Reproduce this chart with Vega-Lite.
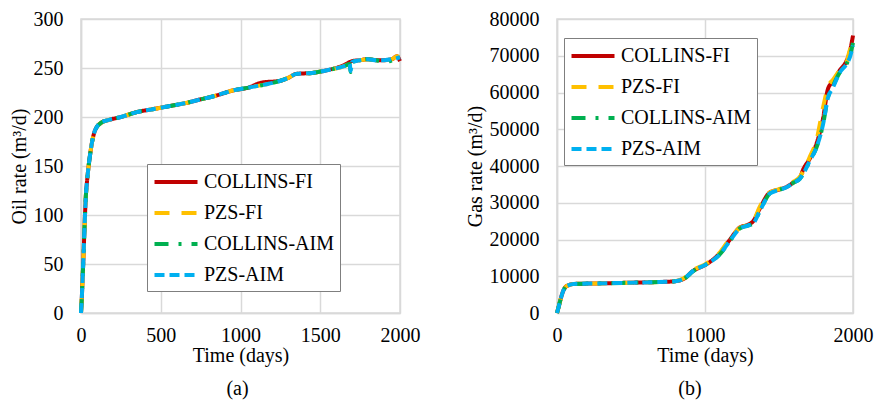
{
  "$schema": "https://vega.github.io/schema/vega-lite/v6.json",
  "background": "white",
  "padding": {"left": 8, "top": 8, "right": 2, "bottom": 2},
  "spacing": 43,
  "config": {
    "font": "Liberation Serif, Times New Roman, serif",
    "view": {"stroke": "#d9d9d9", "strokeWidth": 1.5},
    "axis": {
      "labelFont": "Liberation Serif, Times New Roman, serif", "labelFontSize": 20, "labelColor": "#000",
      "titleFont": "Liberation Serif, Times New Roman, serif", "titleFontSize": 20, "titleFontWeight": "normal", "titleColor": "#000",
      "gridColor": "#d9d9d9", "gridWidth": 1.5, "domainColor": "#d9d9d9", "domainWidth": 1.5,
      "tickSize": 0, "labelFlush": false, "format": "d"
    },
    "axisX": {"labelPadding": 12, "titlePadding": 0},
    "axisY": {"labelPadding": 18, "titlePadding": 4},
    "legend": {
      "orient": "none", "fillColor": "white", "strokeColor": "#7f7f7f", "padding": 6,
      "labelFont": "Liberation Serif, Times New Roman, serif", "labelFontSize": 20, "labelColor": "#000",
      "symbolType": "M-2.15,0H2.15", "symbolSize": 400, "symbolStrokeWidth": 4,
      "symbolOffset": 11, "labelOffset": 16, "rowPadding": 9, "title": null
    },
    "title": {"font": "Liberation Serif, Times New Roman, serif", "fontSize": 20, "fontWeight": "normal", "color": "#000"}
  },
  "resolve": {"scale": {"color": "independent", "strokeDash": "independent"}},
  "datasets": {
    "oil": [
      {"s":"COLLINS-FI","t":0,"v":0},{"s":"COLLINS-FI","t":5,"v":15},{"s":"COLLINS-FI","t":10,"v":35},{"s":"COLLINS-FI","t":15,"v":55},{"s":"COLLINS-FI","t":20,"v":78},{"s":"COLLINS-FI","t":25,"v":100},{"s":"COLLINS-FI","t":30,"v":118},{"s":"COLLINS-FI","t":40,"v":138},{"s":"COLLINS-FI","t":50,"v":153},{"s":"COLLINS-FI","t":60,"v":165},{"s":"COLLINS-FI","t":70,"v":175},{"s":"COLLINS-FI","t":85,"v":185},{"s":"COLLINS-FI","t":100,"v":190},{"s":"COLLINS-FI","t":125,"v":194},{"s":"COLLINS-FI","t":175,"v":197},{"s":"COLLINS-FI","t":250,"v":200},{"s":"COLLINS-FI","t":350,"v":205},{"s":"COLLINS-FI","t":450,"v":208},{"s":"COLLINS-FI","t":550,"v":211},{"s":"COLLINS-FI","t":650,"v":214},{"s":"COLLINS-FI","t":750,"v":218},{"s":"COLLINS-FI","t":850,"v":222},{"s":"COLLINS-FI","t":950,"v":227},{"s":"COLLINS-FI","t":1050,"v":230},{"s":"COLLINS-FI","t":1130,"v":235},{"s":"COLLINS-FI","t":1250,"v":237},{"s":"COLLINS-FI","t":1300,"v":240},{"s":"COLLINS-FI","t":1350,"v":244},{"s":"COLLINS-FI","t":1450,"v":245},{"s":"COLLINS-FI","t":1550,"v":248},{"s":"COLLINS-FI","t":1650,"v":253},{"s":"COLLINS-FI","t":1700,"v":257},{"s":"COLLINS-FI","t":1750,"v":258},{"s":"COLLINS-FI","t":1800,"v":259},{"s":"COLLINS-FI","t":1850,"v":258},{"s":"COLLINS-FI","t":1900,"v":258},{"s":"COLLINS-FI","t":1950,"v":259},{"s":"COLLINS-FI","t":1980,"v":262},{"s":"COLLINS-FI","t":2000,"v":257},
      {"s":"PZS-FI","t":0,"v":0},{"s":"PZS-FI","t":5,"v":15},{"s":"PZS-FI","t":10,"v":35},{"s":"PZS-FI","t":15,"v":55},{"s":"PZS-FI","t":20,"v":78},{"s":"PZS-FI","t":25,"v":100},{"s":"PZS-FI","t":30,"v":118},{"s":"PZS-FI","t":40,"v":138},{"s":"PZS-FI","t":50,"v":153},{"s":"PZS-FI","t":60,"v":165},{"s":"PZS-FI","t":70,"v":175},{"s":"PZS-FI","t":85,"v":185},{"s":"PZS-FI","t":100,"v":190},{"s":"PZS-FI","t":125,"v":194},{"s":"PZS-FI","t":175,"v":197},{"s":"PZS-FI","t":250,"v":200},{"s":"PZS-FI","t":350,"v":205},{"s":"PZS-FI","t":450,"v":208},{"s":"PZS-FI","t":550,"v":211},{"s":"PZS-FI","t":650,"v":214},{"s":"PZS-FI","t":750,"v":218},{"s":"PZS-FI","t":850,"v":222},{"s":"PZS-FI","t":950,"v":227},{"s":"PZS-FI","t":1050,"v":230},{"s":"PZS-FI","t":1150,"v":233},{"s":"PZS-FI","t":1250,"v":237},{"s":"PZS-FI","t":1300,"v":240},{"s":"PZS-FI","t":1350,"v":244},{"s":"PZS-FI","t":1450,"v":245},{"s":"PZS-FI","t":1550,"v":248},{"s":"PZS-FI","t":1650,"v":252},{"s":"PZS-FI","t":1700,"v":256},{"s":"PZS-FI","t":1750,"v":258},{"s":"PZS-FI","t":1800,"v":259},{"s":"PZS-FI","t":1850,"v":258},{"s":"PZS-FI","t":1900,"v":258},{"s":"PZS-FI","t":1950,"v":259},{"s":"PZS-FI","t":1980,"v":262},{"s":"PZS-FI","t":2000,"v":261},
      {"s":"COLLINS-AIM","t":0,"v":0},{"s":"COLLINS-AIM","t":5,"v":15},{"s":"COLLINS-AIM","t":10,"v":35},{"s":"COLLINS-AIM","t":15,"v":55},{"s":"COLLINS-AIM","t":20,"v":78},{"s":"COLLINS-AIM","t":25,"v":100},{"s":"COLLINS-AIM","t":30,"v":118},{"s":"COLLINS-AIM","t":40,"v":138},{"s":"COLLINS-AIM","t":50,"v":153},{"s":"COLLINS-AIM","t":60,"v":165},{"s":"COLLINS-AIM","t":70,"v":175},{"s":"COLLINS-AIM","t":85,"v":185},{"s":"COLLINS-AIM","t":100,"v":190},{"s":"COLLINS-AIM","t":125,"v":194},{"s":"COLLINS-AIM","t":175,"v":197},{"s":"COLLINS-AIM","t":250,"v":200},{"s":"COLLINS-AIM","t":350,"v":205},{"s":"COLLINS-AIM","t":450,"v":208},{"s":"COLLINS-AIM","t":550,"v":211},{"s":"COLLINS-AIM","t":650,"v":214},{"s":"COLLINS-AIM","t":750,"v":218},{"s":"COLLINS-AIM","t":850,"v":222},{"s":"COLLINS-AIM","t":950,"v":227},{"s":"COLLINS-AIM","t":1050,"v":230},{"s":"COLLINS-AIM","t":1150,"v":233},{"s":"COLLINS-AIM","t":1250,"v":237},{"s":"COLLINS-AIM","t":1300,"v":240},{"s":"COLLINS-AIM","t":1350,"v":244},{"s":"COLLINS-AIM","t":1450,"v":245},{"s":"COLLINS-AIM","t":1550,"v":248},{"s":"COLLINS-AIM","t":1650,"v":252},{"s":"COLLINS-AIM","t":1685,"v":254},{"s":"COLLINS-AIM","t":1690,"v":246},{"s":"COLLINS-AIM","t":1700,"v":256},{"s":"COLLINS-AIM","t":1750,"v":258},{"s":"COLLINS-AIM","t":1800,"v":259},{"s":"COLLINS-AIM","t":1850,"v":258},{"s":"COLLINS-AIM","t":1900,"v":256},{"s":"COLLINS-AIM","t":1950,"v":258},{"s":"COLLINS-AIM","t":1980,"v":261},{"s":"COLLINS-AIM","t":2000,"v":261},
      {"s":"PZS-AIM","t":0,"v":0},{"s":"PZS-AIM","t":5,"v":15},{"s":"PZS-AIM","t":10,"v":35},{"s":"PZS-AIM","t":15,"v":55},{"s":"PZS-AIM","t":20,"v":78},{"s":"PZS-AIM","t":25,"v":100},{"s":"PZS-AIM","t":30,"v":118},{"s":"PZS-AIM","t":40,"v":138},{"s":"PZS-AIM","t":50,"v":153},{"s":"PZS-AIM","t":60,"v":165},{"s":"PZS-AIM","t":70,"v":175},{"s":"PZS-AIM","t":85,"v":185},{"s":"PZS-AIM","t":100,"v":190},{"s":"PZS-AIM","t":125,"v":194},{"s":"PZS-AIM","t":175,"v":197},{"s":"PZS-AIM","t":250,"v":200},{"s":"PZS-AIM","t":350,"v":205},{"s":"PZS-AIM","t":450,"v":208},{"s":"PZS-AIM","t":550,"v":211},{"s":"PZS-AIM","t":650,"v":214},{"s":"PZS-AIM","t":750,"v":218},{"s":"PZS-AIM","t":850,"v":222},{"s":"PZS-AIM","t":950,"v":227},{"s":"PZS-AIM","t":1050,"v":230},{"s":"PZS-AIM","t":1150,"v":233},{"s":"PZS-AIM","t":1250,"v":237},{"s":"PZS-AIM","t":1300,"v":240},{"s":"PZS-AIM","t":1350,"v":244},{"s":"PZS-AIM","t":1450,"v":245},{"s":"PZS-AIM","t":1550,"v":248},{"s":"PZS-AIM","t":1650,"v":252},{"s":"PZS-AIM","t":1685,"v":254},{"s":"PZS-AIM","t":1690,"v":247},{"s":"PZS-AIM","t":1700,"v":256},{"s":"PZS-AIM","t":1750,"v":258},{"s":"PZS-AIM","t":1800,"v":259},{"s":"PZS-AIM","t":1850,"v":258},{"s":"PZS-AIM","t":1900,"v":258},{"s":"PZS-AIM","t":1950,"v":259},{"s":"PZS-AIM","t":1980,"v":260},{"s":"PZS-AIM","t":2000,"v":261}
    ],
    "gas": [
      {"s":"COLLINS-FI","t":0,"v":0},{"s":"COLLINS-FI","t":10,"v":1500},{"s":"COLLINS-FI","t":22,"v":3400},{"s":"COLLINS-FI","t":40,"v":5800},{"s":"COLLINS-FI","t":56,"v":7000},{"s":"COLLINS-FI","t":80,"v":7600},{"s":"COLLINS-FI","t":112,"v":7900},{"s":"COLLINS-FI","t":200,"v":8000},{"s":"COLLINS-FI","t":337,"v":8100},{"s":"COLLINS-FI","t":500,"v":8250},{"s":"COLLINS-FI","t":650,"v":8400},{"s":"COLLINS-FI","t":787,"v":8600},{"s":"COLLINS-FI","t":854,"v":9250},{"s":"COLLINS-FI","t":921,"v":11500},{"s":"COLLINS-FI","t":1011,"v":13300},{"s":"COLLINS-FI","t":1101,"v":16300},{"s":"COLLINS-FI","t":1169,"v":20000},{"s":"COLLINS-FI","t":1236,"v":23300},{"s":"COLLINS-FI","t":1290,"v":24000},{"s":"COLLINS-FI","t":1326,"v":25000},{"s":"COLLINS-FI","t":1371,"v":28500},{"s":"COLLINS-FI","t":1438,"v":32800},{"s":"COLLINS-FI","t":1500,"v":33600},{"s":"COLLINS-FI","t":1551,"v":34300},{"s":"COLLINS-FI","t":1600,"v":35600},{"s":"COLLINS-FI","t":1640,"v":36700},{"s":"COLLINS-FI","t":1663,"v":39000},{"s":"COLLINS-FI","t":1708,"v":42000},{"s":"COLLINS-FI","t":1753,"v":46000},{"s":"COLLINS-FI","t":1798,"v":53000},{"s":"COLLINS-FI","t":1831,"v":61000},{"s":"COLLINS-FI","t":1865,"v":63000},{"s":"COLLINS-FI","t":1910,"v":66000},{"s":"COLLINS-FI","t":1955,"v":68500},{"s":"COLLINS-FI","t":1978,"v":71000},{"s":"COLLINS-FI","t":2000,"v":75500},
      {"s":"PZS-FI","t":0,"v":0},{"s":"PZS-FI","t":10,"v":1500},{"s":"PZS-FI","t":22,"v":3400},{"s":"PZS-FI","t":40,"v":5800},{"s":"PZS-FI","t":56,"v":7000},{"s":"PZS-FI","t":80,"v":7600},{"s":"PZS-FI","t":112,"v":7900},{"s":"PZS-FI","t":200,"v":8000},{"s":"PZS-FI","t":337,"v":8100},{"s":"PZS-FI","t":500,"v":8250},{"s":"PZS-FI","t":650,"v":8400},{"s":"PZS-FI","t":787,"v":8600},{"s":"PZS-FI","t":854,"v":9400},{"s":"PZS-FI","t":921,"v":11700},{"s":"PZS-FI","t":1011,"v":13500},{"s":"PZS-FI","t":1101,"v":16500},{"s":"PZS-FI","t":1169,"v":20300},{"s":"PZS-FI","t":1236,"v":23200},{"s":"PZS-FI","t":1290,"v":24000},{"s":"PZS-FI","t":1326,"v":25000},{"s":"PZS-FI","t":1371,"v":29000},{"s":"PZS-FI","t":1438,"v":32800},{"s":"PZS-FI","t":1500,"v":33700},{"s":"PZS-FI","t":1551,"v":34600},{"s":"PZS-FI","t":1600,"v":35800},{"s":"PZS-FI","t":1640,"v":37000},{"s":"PZS-FI","t":1663,"v":38500},{"s":"PZS-FI","t":1708,"v":42500},{"s":"PZS-FI","t":1753,"v":47000},{"s":"PZS-FI","t":1798,"v":56000},{"s":"PZS-FI","t":1831,"v":61500},{"s":"PZS-FI","t":1865,"v":63500},{"s":"PZS-FI","t":1910,"v":66000},{"s":"PZS-FI","t":1955,"v":68000},{"s":"PZS-FI","t":1978,"v":71500},{"s":"PZS-FI","t":2000,"v":73000},
      {"s":"COLLINS-AIM","t":0,"v":0},{"s":"COLLINS-AIM","t":10,"v":1500},{"s":"COLLINS-AIM","t":22,"v":3400},{"s":"COLLINS-AIM","t":40,"v":5800},{"s":"COLLINS-AIM","t":56,"v":7000},{"s":"COLLINS-AIM","t":80,"v":7600},{"s":"COLLINS-AIM","t":112,"v":7900},{"s":"COLLINS-AIM","t":200,"v":8000},{"s":"COLLINS-AIM","t":337,"v":8100},{"s":"COLLINS-AIM","t":500,"v":8250},{"s":"COLLINS-AIM","t":650,"v":8400},{"s":"COLLINS-AIM","t":787,"v":8600},{"s":"COLLINS-AIM","t":854,"v":9200},{"s":"COLLINS-AIM","t":921,"v":11400},{"s":"COLLINS-AIM","t":1011,"v":13300},{"s":"COLLINS-AIM","t":1101,"v":16000},{"s":"COLLINS-AIM","t":1169,"v":19700},{"s":"COLLINS-AIM","t":1236,"v":23000},{"s":"COLLINS-AIM","t":1290,"v":23800},{"s":"COLLINS-AIM","t":1326,"v":24400},{"s":"COLLINS-AIM","t":1371,"v":27800},{"s":"COLLINS-AIM","t":1438,"v":32500},{"s":"COLLINS-AIM","t":1500,"v":33500},{"s":"COLLINS-AIM","t":1551,"v":34200},{"s":"COLLINS-AIM","t":1600,"v":35500},{"s":"COLLINS-AIM","t":1640,"v":36500},{"s":"COLLINS-AIM","t":1663,"v":37800},{"s":"COLLINS-AIM","t":1708,"v":41400},{"s":"COLLINS-AIM","t":1753,"v":45000},{"s":"COLLINS-AIM","t":1798,"v":51400},{"s":"COLLINS-AIM","t":1831,"v":58600},{"s":"COLLINS-AIM","t":1865,"v":61800},{"s":"COLLINS-AIM","t":1910,"v":65400},{"s":"COLLINS-AIM","t":1955,"v":67700},{"s":"COLLINS-AIM","t":1978,"v":69800},{"s":"COLLINS-AIM","t":2000,"v":73500},
      {"s":"PZS-AIM","t":0,"v":0},{"s":"PZS-AIM","t":10,"v":1500},{"s":"PZS-AIM","t":22,"v":3400},{"s":"PZS-AIM","t":40,"v":5800},{"s":"PZS-AIM","t":56,"v":7000},{"s":"PZS-AIM","t":80,"v":7600},{"s":"PZS-AIM","t":112,"v":7900},{"s":"PZS-AIM","t":200,"v":8000},{"s":"PZS-AIM","t":337,"v":8100},{"s":"PZS-AIM","t":500,"v":8250},{"s":"PZS-AIM","t":650,"v":8400},{"s":"PZS-AIM","t":787,"v":8600},{"s":"PZS-AIM","t":854,"v":9250},{"s":"PZS-AIM","t":921,"v":11500},{"s":"PZS-AIM","t":1011,"v":13300},{"s":"PZS-AIM","t":1101,"v":16000},{"s":"PZS-AIM","t":1169,"v":19700},{"s":"PZS-AIM","t":1236,"v":23000},{"s":"PZS-AIM","t":1290,"v":23800},{"s":"PZS-AIM","t":1326,"v":24400},{"s":"PZS-AIM","t":1371,"v":27800},{"s":"PZS-AIM","t":1438,"v":32500},{"s":"PZS-AIM","t":1500,"v":33500},{"s":"PZS-AIM","t":1551,"v":34200},{"s":"PZS-AIM","t":1600,"v":35500},{"s":"PZS-AIM","t":1640,"v":36500},{"s":"PZS-AIM","t":1663,"v":37800},{"s":"PZS-AIM","t":1708,"v":41400},{"s":"PZS-AIM","t":1753,"v":45000},{"s":"PZS-AIM","t":1798,"v":51400},{"s":"PZS-AIM","t":1831,"v":58600},{"s":"PZS-AIM","t":1865,"v":61400},{"s":"PZS-AIM","t":1910,"v":65400},{"s":"PZS-AIM","t":1955,"v":67700},{"s":"PZS-AIM","t":1978,"v":69500},{"s":"PZS-AIM","t":2000,"v":72800}
    ]
  },
  "hconcat": [
    {
      "width": 319, "height": 294,
      "data": {"name": "oil"},
      "title": {"text": "(a)", "orient": "bottom", "frame": "group", "offset": 14, "dx": -3},
      "mark": {"type": "line", "strokeWidth": 4, "interpolate": "monotone"},
      "encoding": {
        "x": {"field": "t", "type": "quantitative", "title": "Time (days)",
              "scale": {"domain": [0, 2000], "nice": false},
              "axis": {"values": [0, 500, 1000, 1500, 2000]}},
        "y": {"field": "v", "type": "quantitative", "title": "Oil rate (m³/d)",
              "scale": {"domain": [0, 300], "nice": false},
              "axis": {"values": [0, 50, 100, 150, 200, 250, 300]}},
        "color": {"field": "s", "type": "nominal",
                  "scale": {"domain": ["COLLINS-FI", "PZS-FI", "COLLINS-AIM", "PZS-AIM"], "range": ["#c00000", "#ffc000", "#00b050", "#00b0f0"]},
                  "legend": {"legendX": 66, "legendY": 145}},
        "strokeDash": {"field": "s", "type": "nominal",
                  "scale": {"domain": ["COLLINS-FI", "PZS-FI", "COLLINS-AIM", "PZS-AIM"], "range": [[1, 0], [15, 12], [14, 10, 3, 10], [10, 5]]},
                  "legend": {"legendX": 66, "legendY": 145}}
      }
    },
    {
      "width": 296, "height": 294,
      "data": {"name": "gas"},
      "title": {"text": "(b)", "orient": "bottom", "frame": "group", "offset": 14, "dx": -15},
      "mark": {"type": "line", "strokeWidth": 4, "interpolate": "monotone"},
      "encoding": {
        "x": {"field": "t", "type": "quantitative", "title": "Time (days)",
              "scale": {"domain": [0, 2000], "nice": false},
              "axis": {"values": [0, 1000, 2000]}},
        "y": {"field": "v", "type": "quantitative", "title": "Gas rate (m³/d)",
              "scale": {"domain": [0, 80000], "nice": false},
              "axis": {"values": [0, 10000, 20000, 30000, 40000, 50000, 60000, 70000, 80000]}},
        "color": {"field": "s", "type": "nominal",
                  "scale": {"domain": ["COLLINS-FI", "PZS-FI", "COLLINS-AIM", "PZS-AIM"], "range": ["#c00000", "#ffc000", "#00b050", "#00b0f0"]},
                  "legend": {"legendX": 7, "legendY": 19}},
        "strokeDash": {"field": "s", "type": "nominal",
                  "scale": {"domain": ["COLLINS-FI", "PZS-FI", "COLLINS-AIM", "PZS-AIM"], "range": [[1, 0], [15, 12], [14, 10, 3, 10], [10, 5]]},
                  "legend": {"legendX": 7, "legendY": 19}}
      }
    }
  ]
}
